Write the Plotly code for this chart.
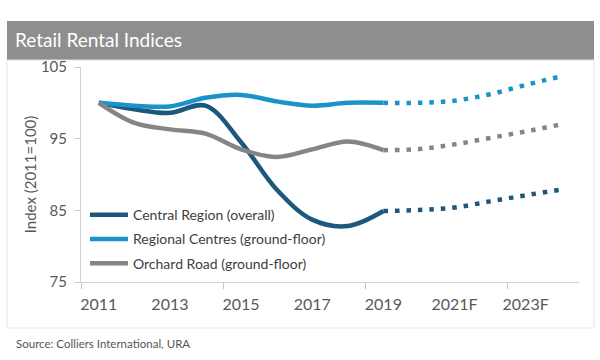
import plotly.graph_objects as go

years = [2011, 2012, 2013, 2014, 2015, 2016, 2017, 2018, 2019]
fc_years = [2019, 2020, 2021, 2022, 2023, 2024]

central = [100.0, 99.1, 98.6, 99.6, 94.5, 87.9, 83.7, 82.8, 84.9]
regional = [100.0, 99.6, 99.5, 100.7, 101.1, 100.2, 99.6, 100.0, 100.0]
orchard = [100.0, 97.2, 96.3, 95.7, 93.5, 92.45, 93.5, 94.6, 93.4]

central_fc = [84.9, 85.05, 85.4, 86.25, 87.1, 87.9]
regional_fc = [100.0, 100.0, 100.3, 101.2, 102.5, 103.7]
orchard_fc = [93.4, 93.55, 94.2, 95.1, 96.0, 97.0]

tick_years = [2011, 2013, 2015, 2017, 2019, 2021, 2023]
tick_labels = ["2011", "2013", "2015", "2017", "2019", "2021F", "2023F"]
tick_marks = [2010.5, 2014.5, 2018.5, 2022.5]
y_ticks = [75, 85, 95, 105]

names = ["Central Region (overall)", "Regional Centres (ground-floor)", "Orchard Road (ground-floor)"]
colors = ["#1B587C", "#1A93CA", "#858585"]
FONT = "Lato"

fig = go.Figure()
for name, hist, fc, col in zip(names, [central, regional, orchard],
                               [central_fc, regional_fc, orchard_fc], colors):
    fig.add_trace(go.Scatter(x=years, y=hist, mode="lines", name=name,
                             legendgroup=name,
                             line=dict(color=col, width=4.5, shape="spline", smoothing=1)))
    fig.add_trace(go.Scatter(x=fc_years, y=fc, mode="lines", name=name,
                             legendgroup=name, showlegend=False,
                             line=dict(color=col, width=4.5, shape="spline", smoothing=1,
                                       dash="4.5px,7px")))

# invisible trace so the overlay axis carrying the year labels is drawn
fig.add_trace(go.Scatter(x=[tick_years[0]], y=[y_ticks[0]], xaxis="x2", mode="markers",
                         marker=dict(opacity=0), showlegend=False, hoverinfo="skip"))

fig.update_layout(
    width=600, height=360,
    margin=dict(l=81, r=21, t=67, b=78),
    paper_bgcolor="white", plot_bgcolor="white",
    font=dict(family=FONT, color="#595959"),
    title=dict(text="Retail Rental Indices", x=0.025, xanchor="left",
               y=1 - 40 / 360, yanchor="middle",
               font=dict(family=FONT, size=19, color="white")),
    xaxis=dict(range=[2010.5, 2024.5], tickvals=tick_marks, showticklabels=False,
               ticks="outside", ticklen=6, tickwidth=1, tickcolor="#C4C4C4",
               showgrid=False, zeroline=False,
               showline=True, linecolor="#D0D0D0", linewidth=1),
    xaxis2=dict(range=[2010.5, 2024.5], overlaying="x", anchor="y", side="bottom",
                tickvals=tick_years, ticktext=tick_labels, ticks="",
                tickfont=dict(size=16, color="#595959"), ticklabelstandoff=11,
                showgrid=False, zeroline=False, showline=False, fixedrange=True),
    yaxis=dict(range=[75, 105], tickvals=y_ticks, showgrid=False, zeroline=False,
               showline=True, linecolor="#D0D0D0", linewidth=1,
               ticks="outside", ticklen=5, tickcolor="#C8C8C8",
               tickfont=dict(size=15, color="#595959"), ticklabelstandoff=5,
               title=dict(text="Index (2011=100)", font=dict(size=15, color="#595959"),
                          standoff=0)),
    legend=dict(x=0.008, y=0.385, xanchor="left", yanchor="top", itemwidth=38,
                bgcolor="rgba(0,0,0,0)", traceorder="grouped", tracegroupgap=3,
                font=dict(size=14, color="#404040")),
    shapes=[
        dict(type="rect", xref="paper", yref="paper",
             x0=-74 / 498, x1=(594 - 81) / 498,
             y0=(282 - 60) / 215, y1=(282 - 21) / 215,
             fillcolor="#8E8E8E", line=dict(width=0), layer="below"),
        dict(type="rect", xref="paper", yref="paper",
             x0=-74 / 498, x1=(594 - 81) / 498,
             y0=(282 - 328) / 215, y1=(282 - 60) / 215,
             fillcolor="rgba(0,0,0,0)", line=dict(width=1, color="#E3E3E3"), layer="below"),
    ],
    annotations=[
        dict(text="Source: Colliers International, URA", xref="paper", yref="paper",
             x=(14 - 81) / 498, y=(282 - 343) / 215, xanchor="left", yanchor="middle",
             showarrow=False, font=dict(family=FONT, size=11.5, color="#555555")),
    ],
)

fig.write_html("out.html", config={"displayModeBar": False},
               post_script="document.body.style.margin='0';")
